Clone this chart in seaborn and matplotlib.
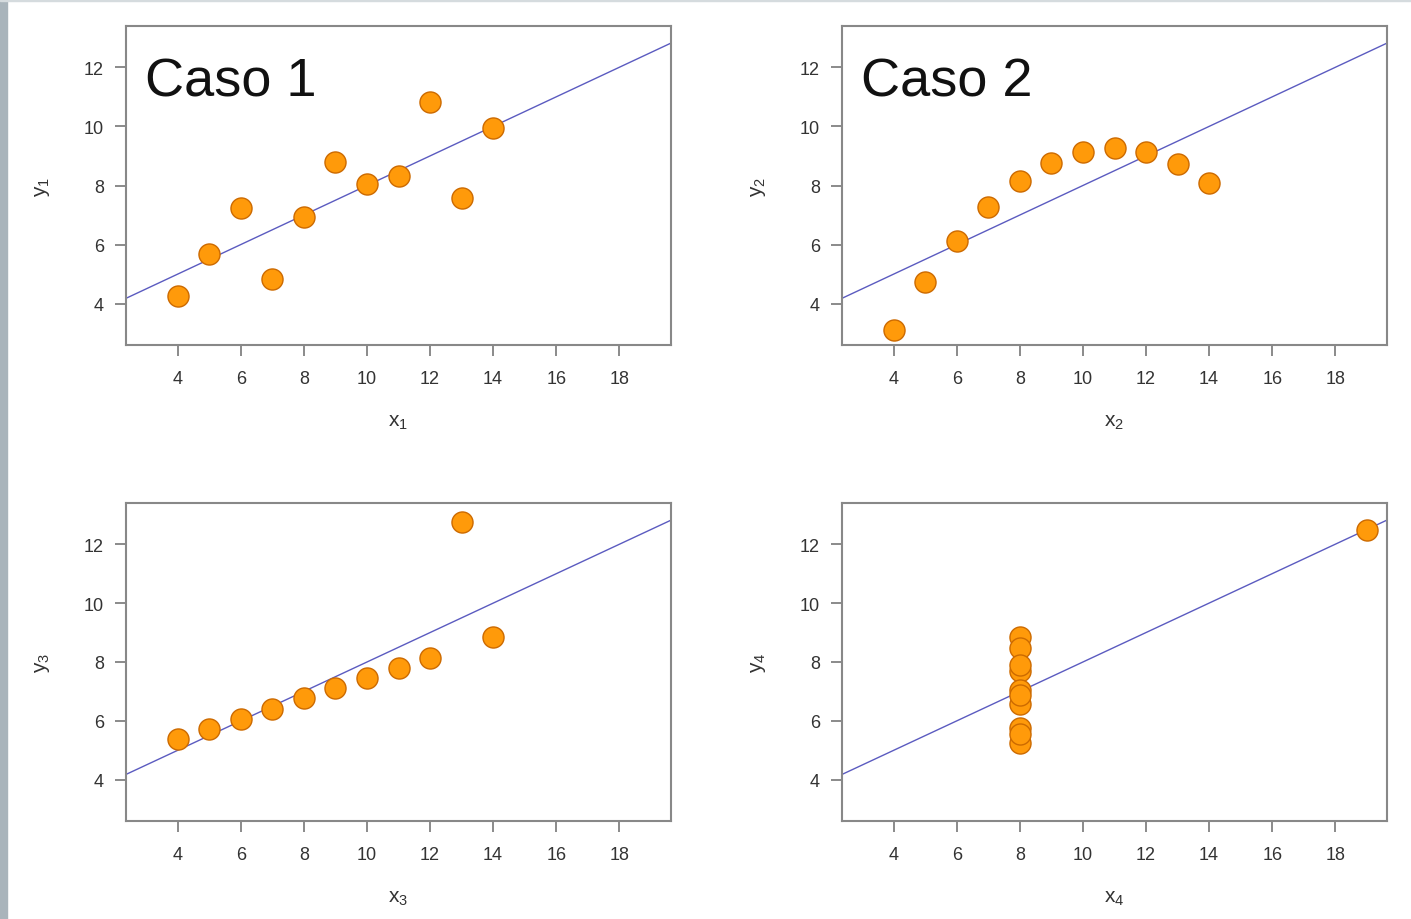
import matplotlib
matplotlib.use("Agg")
import matplotlib.pyplot as plt
import seaborn as sns
import numpy as np
import pandas as pd
from matplotlib.patches import Rectangle

sns.set_theme(style="white", context="notebook")
plt.rcParams["font.family"] = ["Liberation Sans", "DejaVu Sans"]
plt.rcParams["mathtext.fontset"] = "custom"
plt.rcParams["mathtext.rm"] = "Liberation Sans"
plt.rcParams["mathtext.it"] = "Liberation Sans"

# Anscombe's quartet
x123 = [10, 8, 13, 9, 11, 14, 6, 4, 12, 7, 5]
x4 = [8, 8, 8, 8, 8, 8, 8, 19, 8, 8, 8]
y1 = [8.04, 6.95, 7.58, 8.81, 8.33, 9.96, 7.24, 4.26, 10.84, 4.82, 5.68]
y2 = [9.14, 8.14, 8.74, 8.77, 9.26, 8.10, 6.13, 3.10, 9.13, 7.26, 4.74]
y3 = [7.46, 6.77, 12.74, 7.11, 7.81, 8.84, 6.08, 5.39, 8.15, 6.42, 5.73]
y4 = [6.58, 5.76, 7.71, 8.84, 8.47, 7.04, 5.25, 12.50, 5.56, 7.91, 6.89]

panels = [
    ("1", x123, y1, "Caso 1"),
    ("2", x123, y2, "Caso 2"),
    ("3", x123, y3, None),
    ("4", x4, y4, None),
]
x_ticks = [4, 6, 8, 10, 12, 14, 16, 18]
y_ticks = [4, 6, 8, 10, 12]

W, H = 1411, 920
fig = plt.figure(figsize=(W / 100, H / 100), dpi=100)

# frame decoration of the slide
fig.patches.append(Rectangle((0, 0), 7 / W, 1, transform=fig.transFigure,
                             color="#a9b4bb", zorder=0))
fig.patches.append(Rectangle((0, 1 - 2 / H), 1, 2 / H, transform=fig.transFigure,
                             color="#d5dbde", zorder=0))

# axes boxes in pixels: left, top, right, bottom
boxes = [(126, 27, 671, 346), (842, 27, 1387, 346),
         (126, 504, 671, 822), (842, 504, 1387, 822)]

for (idx, xs, ys, title), (l, t, r, b) in zip(panels, boxes):
    ax = fig.add_axes([l / W, 1 - b / H, (r - l) / W, (b - t) / H])
    df = pd.DataFrame({"x": xs, "y": ys})
    ax.set_xlim(2.36, 19.64)
    ax.set_ylim(2.6, 13.4)
    slope, intercept = np.polyfit(df["x"], df["y"], 1)
    ax.axline((0, intercept), slope=slope, color="#5b5bc0", lw=1.0, zorder=1)
    sns.scatterplot(data=df, x="x", y="y", ax=ax, s=230, color="#ff9a0a",
                    edgecolor="#cc6a00", linewidth=1.0, zorder=3, legend=False)
    ax.set_xticks(x_ticks)
    ax.set_yticks(y_ticks)
    ax.tick_params(axis="both", direction="out", length=8, width=1.2,
                   color="#777777", labelcolor="#333333", labelsize=13,
                   bottom=True, left=True)
    ax.tick_params(axis="x", pad=10)
    ax.tick_params(axis="y", pad=8)
    for sp in ax.spines.values():
        sp.set_color("#888888")
        sp.set_linewidth(1.5)
    w_px, h_px = r - l, b - t
    ax.set_xlabel(f"x$_{idx}$", fontsize=15, color="#333333")
    ax.set_ylabel(f"y$_{idx}$", fontsize=15, color="#333333")
    ax.xaxis.set_label_coords(0.5, -77 / h_px)
    ax.yaxis.set_label_coords(-83 / w_px, 0.5)
    ax.xaxis.label.set_va("center")
    ax.yaxis.label.set_va("center")
    ax.yaxis.label.set_ha("center")
    if title:
        ax.text(19 / w_px, (b - 97) / h_px, title, transform=ax.transAxes,
                fontsize=39, color="#111111", va="baseline", ha="left")

fig.savefig("out.png", dpi=100)
plt.close(fig)
